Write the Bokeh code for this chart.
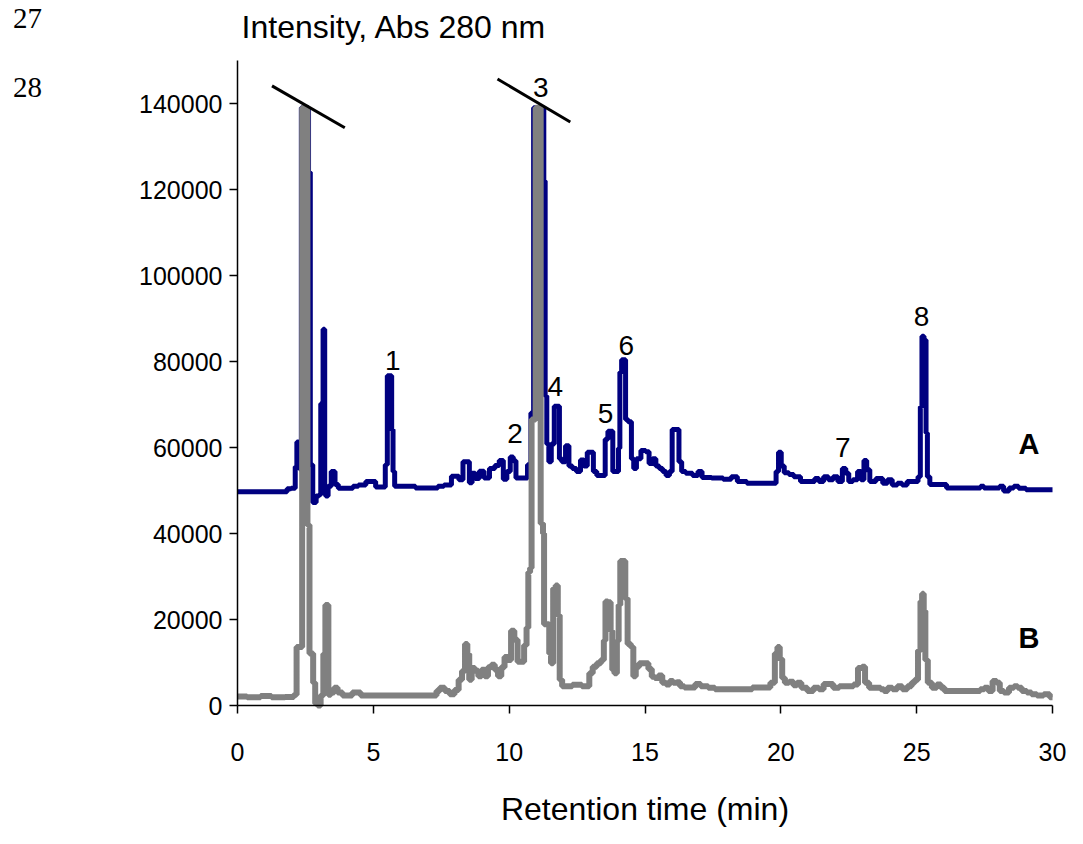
from bokeh.plotting import figure
from bokeh.models import Range1d, FixedTicker, Label
from bokeh.core.properties import value
from bokeh.embed import file_html
from bokeh.resources import INLINE

# ---- data -------------------------------------------------------------
a_time = [0.0, 1.8, 1.85, 2.1, 2.15, 2.22, 2.27, 2.3, 2.4, 2.6, 2.63, 2.66, 2.7, 2.84,
          2.95, 3.05, 3.08, 3.14, 3.16, 3.2, 3.22, 3.27, 3.4, 3.5, 3.56, 3.62, 3.8, 4.2,
          4.3, 4.6, 4.85, 5.07, 5.1, 5.4, 5.48, 5.55, 5.65, 5.7, 5.75, 5.82, 6.5, 6.6,
          7.35, 7.4, 7.8, 7.95, 8.1, 8.2, 8.4, 8.5, 8.57, 8.7, 8.8, 9.0, 9.15, 9.4, 9.55,
          9.72, 9.85, 9.98, 10.1, 10.2, 10.3, 10.6, 10.75, 10.85, 10.95, 11.25, 11.3,
          11.35, 11.42, 11.5, 11.6, 11.72, 11.82, 11.88, 12.0, 12.15, 12.25, 12.4, 12.55,
          12.7, 12.8, 12.95, 13.05, 13.15, 13.3, 13.5, 13.57, 13.7, 13.78, 13.85, 14.0,
          14.05, 14.1, 14.18, 14.27, 14.3, 14.45, 14.55, 14.62, 14.75, 14.95, 15.1, 15.2,
          15.35, 15.45, 15.6, 15.7, 15.85, 15.95, 16.05, 16.2, 16.3, 16.4, 16.6, 16.9,
          17.0, 17.2, 17.7, 18.05, 18.3, 18.5, 19.0, 19.8, 19.85, 19.98, 20.05, 20.2,
          20.4, 20.55, 20.9, 21.2, 21.3, 21.5, 21.65, 21.85, 22.0, 22.2, 22.33, 22.45,
          22.55, 22.75, 22.9, 23.0, 23.12, 23.2, 23.35, 23.65, 23.85, 24.0, 24.2, 24.38,
          24.55, 24.75, 25.0, 25.1, 25.17, 25.22, 25.32, 25.37, 25.42, 25.55, 26.0, 26.2,
          27.3, 27.4, 27.55, 28.0, 28.1, 28.3, 28.5, 28.65, 28.85, 29.2, 30.0]
a_signal = [49700, 49700, 50400, 50500, 55500, 61300, 61000, 55000, 139000, 139000, 124000,
            124000, 56000, 47200, 48700, 49000, 70200, 70500, 87500, 87500, 50000, 48700,
            51000, 54400, 54400, 51400, 50500, 50500, 51000, 51300, 52100, 52100, 50800,
            50800, 56000, 76700, 76700, 64200, 54400, 51000, 51000, 50600, 50600, 51000,
            51300, 53300, 53300, 52500, 56700, 56700, 51800, 54000, 52800, 54500, 52900,
            55100, 55800, 57000, 52600, 54400, 57800, 56900, 52900, 52900, 56000, 68000,
            139000, 139000, 122000, 72000, 60800, 56700, 60800, 69600, 69600, 57400, 56700,
            60400, 55700, 55100, 54400, 57100, 55700, 58900, 58900, 54400, 53500, 53500,
            61900, 63800, 63800, 54400, 54400, 59800, 77500, 80400, 80400, 66500, 66000,
            57400, 55100, 57400, 59300, 59000, 56300, 57400, 55700, 55100, 54400, 53500,
            54400, 64200, 64200, 56700, 54400, 54000, 53500, 54400, 53000, 52900, 52600,
            53200, 52100, 51700, 51700, 54400, 58900, 55700, 54100, 53700, 53200, 52100,
            52100, 52800, 52100, 53200, 52500, 53200, 52100, 55100, 54000, 52100, 52500,
            54400, 52500, 57000, 54800, 52100, 52800, 51700, 52500, 51300, 51700, 51300,
            52100, 52100, 53200, 69500, 85900, 85000, 63400, 53200, 51400, 51400, 50600,
            50600, 51000, 50600, 50600, 51000, 49900, 50600, 51000, 50500, 50200, 50200]

b_time = [0.0, 0.7, 1.0, 1.5, 2.0, 2.15, 2.2, 2.33, 2.43, 2.53, 2.62, 2.68, 2.75, 2.82, 2.9,
          3.0, 3.12, 3.2, 3.27, 3.32, 3.37, 3.5, 3.62, 3.75, 3.98, 4.47, 4.6, 7.3, 7.35,
          7.54, 7.72, 7.9, 8.08, 8.2, 8.33, 8.42, 8.5, 8.56, 8.68, 8.8, 8.93, 9.04, 9.16,
          9.28, 9.41, 9.53, 9.65, 9.77, 9.89, 10.01, 10.13, 10.25, 10.37, 10.49, 10.61,
          10.67, 10.74, 10.8, 10.85, 11.1, 11.22, 11.27, 11.3, 11.45, 11.5, 11.58,
          11.66, 11.76, 11.82, 11.9, 12.0, 12.2, 12.45, 12.9, 13.0, 13.15, 13.3, 13.45,
          13.52, 13.57, 13.7, 13.77, 13.82, 13.93, 14.0, 14.06, 14.12, 14.25, 14.3, 14.42,
          14.54, 14.6, 14.72, 14.85, 15.05, 15.2, 15.3, 15.42, 15.57, 15.7, 15.85, 15.97,
          16.1, 16.23, 16.35, 16.55, 16.8, 16.9, 17.2, 17.45, 17.7, 18.2, 18.9, 19.0, 19.5,
          19.73, 19.83, 19.92, 20.0, 20.1, 20.2, 20.4, 20.53, 20.66, 20.85, 21.1, 21.3,
          21.5, 21.65, 21.85, 22.0, 22.3, 22.6, 22.75, 22.93, 23.05, 23.15, 23.35, 23.6,
          23.75, 23.84, 24.02, 24.2, 24.38, 24.56, 24.75, 24.87, 24.99, 25.11, 25.17, 25.23,
          25.29, 25.35, 25.47, 25.65, 25.83, 25.95, 26.1, 27.28, 27.4, 27.58, 27.7, 27.89,
          28.0, 28.12, 28.3, 28.5, 28.66, 28.78, 28.96, 29.15, 29.3, 29.55, 29.8, 30.0]
b_signal = [2100, 1900, 2200, 1900, 2000, 2500, 13600, 13600, 139000, 139000, 42000, 12100,
            12100, 5300, 450, 0, 2300, 12000, 23400, 23400, 2500, 3000, 4100, 3000, 2300,
            3000, 2300, 2300, 3400, 4100, 3400, 2600, 3600, 6000, 8000, 14300, 12000, 6000,
            8700, 8100, 6800, 8300, 6800, 8900, 9500, 8300, 6800, 8900, 11300, 10600, 17400,
            15300, 10200, 10200, 14000, 18100, 31000, 32000, 66500, 139000, 42300,
            40000, 18900, 18900, 12100, 9800, 27200, 27900, 21000, 6000, 4500, 4500, 4800,
            4500, 7500, 9000, 9800, 10600, 15100, 24200, 24000, 17400, 8300, 7500, 15000,
            23400, 33600, 33600, 24900, 14300, 13600, 6800, 9000, 9800, 9800, 8500, 6700,
            6400, 7000, 5300, 4900, 5700, 5300, 5400, 4500, 4200, 4200, 5000, 4500, 4100,
            3800, 3800, 3800, 4200, 4200, 5300, 12100, 13600, 10800, 6400, 5300, 5500, 4700,
            5300, 4100, 3400, 4100, 3800, 5000, 5000, 4100, 4500, 4500, 4900, 8700, 9000,
            5300, 4100, 4100, 3800, 3400, 4100, 3800, 4500, 3800, 4500, 5300, 6000, 12800,
            24200, 26000, 22000, 10600, 5300, 4100, 4900, 4100, 3400, 3400, 3800, 4100, 3400,
            5700, 5300, 3400, 3000, 4100, 4500, 4100, 3400, 3000, 2600, 2300, 2600, 1900]

peak_names = ["1", "2", "3", "4", "5", "6", "7", "8"]
peak_label_time = [5.72, 10.22, 11.16, 11.7, 13.55, 14.31, 22.28, 25.18]
peak_label_signal = [80200, 63200, 143700, 74100, 67800, 83800, 60000, 90400]

trace_names = ["A", "B"]
trace_label_time = [29.13, 29.13]
trace_label_signal = [60700, 15600]

# axis-break marks over the two off-scale peaks
break_t0 = [1.27, 9.57]
break_v0 = [144100, 145700]
break_t1 = [3.95, 12.25]
break_v1 = [134350, 135700]

x_ticks = [0, 5, 10, 15, 20, 25, 30]
y_ticks = [0, 20000, 40000, 60000, 80000, 100000, 120000, 140000]
x_limits = (0, 30)
y_limits = (0, 150000)

# ---- layout (pixels) --------------------------------------------------
W, H = 1067, 828
FRAME_L, FRAME_R, FRAME_T, FRAME_B = 237, 1052, 60, 705
px_per_min = (FRAME_R - FRAME_L) / (x_limits[1] - x_limits[0])
px_per_unit = (FRAME_B - FRAME_T) / (y_limits[1] - y_limits[0])
x_start = x_limits[0] - FRAME_L / px_per_min
x_end = x_limits[1] + (W - FRAME_R) / px_per_min
y_start = y_limits[0] - (H - FRAME_B) / px_per_unit
y_end = y_limits[1] + FRAME_T / px_per_unit

FONT = "Liberation Sans"

p = figure(width=W, height=H, output_backend="svg", toolbar_location=None,
           x_range=Range1d(x_start, x_end), y_range=Range1d(y_start, y_end),
           min_border=0)
p.outline_line_color = None
p.xgrid.visible = False
p.ygrid.visible = False
p.background_fill_color = "white"

for ax in (p.xaxis[0], p.yaxis[0]):
    ax.axis_line_color = "black"
    ax.axis_line_width = 1.5
    ax.major_tick_line_color = "black"
    ax.major_tick_line_width = 1.5
    ax.major_tick_in = 0
    ax.major_tick_out = 8
    ax.minor_tick_line_color = None
    ax.major_label_text_font = FONT
    ax.major_label_text_font_size = "25px"
    ax.major_label_text_color = "black"

p.xaxis.fixed_location = 0
p.yaxis.fixed_location = 0
p.xaxis.bounds = x_limits
p.yaxis.bounds = y_limits
p.xaxis.ticker = FixedTicker(ticks=x_ticks)
p.yaxis.ticker = FixedTicker(ticks=y_ticks)
p.yaxis.formatter.use_scientific = False
p.xaxis.major_label_standoff = 29
p.yaxis.major_label_standoff = 7

p.xaxis.axis_label = "Retention time (min)"
p.xaxis.axis_label_text_font = FONT
p.xaxis.axis_label_text_font_size = "32px"
p.xaxis.axis_label_text_font_style = "normal"
p.xaxis.axis_label_text_color = "black"
p.xaxis.axis_label_standoff = 27

# traces (sampled detector signal, drawn as steps)
p.step(a_time, a_signal, mode="center", line_color="#000080", line_width=5)
p.step(b_time, b_signal, mode="center", line_color="#808080", line_width=6)

# break marks
p.segment(x0=break_t0, y0=break_v0, x1=break_t1, y1=break_v1,
          line_color="black", line_width=3)

# peak numbers
p.text(x=peak_label_time, y=peak_label_signal, text=peak_names,
       text_font=value(FONT), text_font_size="28px", text_color="black",
       text_align="center", text_baseline="middle")

# trace letters
p.text(x=trace_label_time, y=trace_label_signal, text=trace_names,
       text_font=value(FONT), text_font_size="29px", text_font_style="bold",
       text_color="black", text_align="center", text_baseline="middle")

# y axis title (horizontal, above the axis)
p.add_layout(Label(x=0.15, y=y_limits[1] + 33.5 / px_per_unit, text="Intensity, Abs 280 nm",
                   text_font=FONT, text_font_size="32px", text_color="black",
                   text_align="left", text_baseline="middle"))

# manuscript line numbers
p.add_layout(Label(x=(12.5 - FRAME_L) / px_per_min, y=y_limits[1] + 42 / px_per_unit,
                   text="27", text_font="Liberation Serif", text_font_size="29px",
                   text_color="black", text_align="left", text_baseline="middle"))
p.add_layout(Label(x=(12.5 - FRAME_L) / px_per_min, y=143800,
                   text="28", text_font="Liberation Serif", text_font_size="29px",
                   text_color="black", text_align="left", text_baseline="middle"))

open("out.html", "w").write(file_html(p, INLINE))
